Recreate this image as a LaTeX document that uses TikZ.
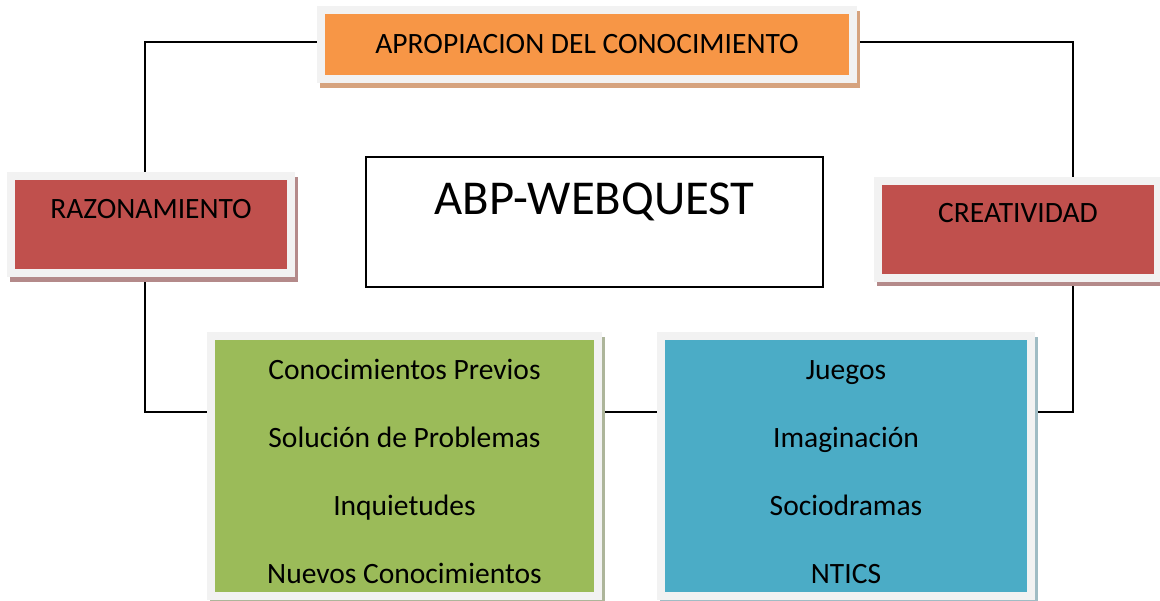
\documentclass[tikz,border=0pt]{standalone}
\usepackage{fontspec}
\setmainfont{Carlito}
\usetikzlibrary{positioning, shadows, backgrounds}

\definecolor{borde}{HTML}{F2F2F2}
\definecolor{naranja}{HTML}{F79646}
\definecolor{rojo}{HTML}{C0504D}
\definecolor{verde}{HTML}{9BBB59}
\definecolor{azul}{HTML}{4BACC6}
\definecolor{sombranaranja}{HTML}{D6A37E}
\definecolor{sombrarojo}{HTML}{B48A8A}
\definecolor{sombraverde}{HTML}{ADB59A}
\definecolor{sombraazul}{HTML}{A0BCC4}

\tikzset{
    caja/.style={draw=borde, line width=0.16cm, inner sep=0pt, font=\fontsize{16.8}{20}\selectfont},
    sombra/.style={drop shadow={shadow xshift=0.06cm, shadow yshift=-0.09cm, opacity=1, fill=#1, draw=#1, line width=0.16cm}},
    lista/.style={align=center, font=\fontsize{16.8}{38.7}\selectfont},
    linea/.style={black, line width=0.9pt}
}
\newcommand{\alto}{\rule{0pt}{0.62cm}}

\begin{document}
\begin{tikzpicture}[x=0.02cm, y=-0.02cm]
            \useasboundingbox (0,0) rectangle (1160,600);

            \node[caja, fill=naranja, sombra=sombranaranja, minimum width=10.64cm, minimum height=1.38cm] (apro) at (587,44.5) {APROPIACION DEL CONOCIMIENTO};
            \node[caja, fill=rojo, sombra=sombrarojo, minimum width=5.6cm, text height=0.84cm, text depth=1.1cm] (razon) at (151,224.5) {RAZONAMIENTO};
            \node[caja, fill=rojo, sombra=sombrarojo, minimum width=5.6cm, text height=0.84cm, text depth=1.1cm] (crea) at (1018,229) {CREATIVIDAD};
            \node[draw, line width=0.03cm, inner sep=0pt, minimum width=9.14cm, text height=1.14cm, text depth=1.46cm, font=\fontsize{27.7}{32}\selectfont] (abp) at (594.5,222) {ABP-WEBQUEST};
            \node[caja, lista, fill=verde, sombra=sombraverde, minimum width=7.74cm, minimum height=5.2cm] (previo) at (404.5,466) {\alto Conocimientos Previos\\Solución de Problemas\\Inquietudes\\Nuevos Conocimientos};
            \node[caja, lista, fill=azul, sombra=sombraazul, minimum width=7.4cm, minimum height=5.2cm] (juego) at (846,466) {\alto Juegos\\Imaginación\\Sociodramas\\NTICS};

            % Draw edges
            \begin{scope}[on background layer]
            \draw[linea] ([yshift=0.05cm]apro.west) -| ([xshift=-0.12cm]razon.north);
            \draw[linea] ([xshift=-0.12cm]razon.south) |- ([yshift=1.08cm]previo.west);
            \draw[linea] ([yshift=1.08cm]previo.east) -- ([yshift=1.08cm]juego.west);
            \draw[linea] ([yshift=1.08cm]juego.east) -| ([xshift=1.1cm]crea.south);
            \draw[linea] ([xshift=1.1cm]crea.north) |- ([yshift=0.05cm]apro.east);
            \end{scope}

        \end{tikzpicture}
\end{document}
